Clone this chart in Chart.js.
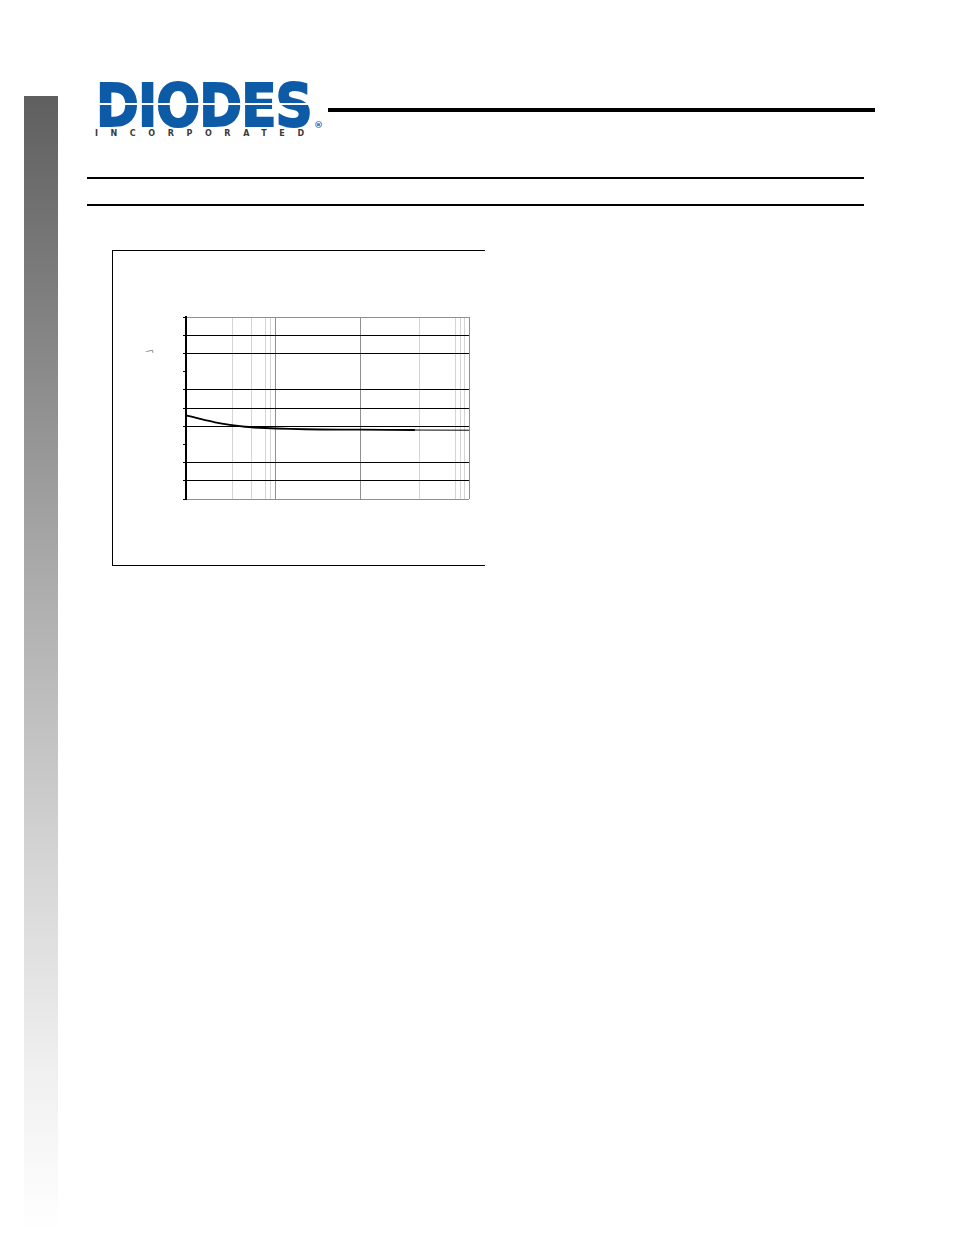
<!DOCTYPE html>
<html>
<head>
<meta charset="utf-8">
<script src="https://cdn.jsdelivr.net/npm/chart.js@4.4.1/dist/chart.umd.min.js"></script>
<style>
  html, body { margin:0; padding:0; background:#fff; }
  body { width:954px; height:1235px; position:relative; overflow:hidden; font-family:"DejaVu Sans", sans-serif; }
  .bar { position:absolute; left:24px; top:96px; width:34px; height:1139px;
         background:linear-gradient(to bottom,#5f5f5f 0%,#8c8c8c 25%,#b0b0b0 45%,#d6d6d6 68%,#efefef 85%,#ffffff 100%); }
  .logowrap { position:absolute; left:95px; top:83px; width:218px; height:45px; }
  .logo { position:absolute; left:1px; top:1px; font-family:"DejaVu Sans"; font-weight:bold; font-size:58px;
          line-height:44px; height:44px; color:#0d5ba6; transform:scaleX(0.89); transform-origin:left top; letter-spacing:-1px;
          white-space:nowrap; -webkit-text-stroke:2px #0d5ba6; }
  .stripe { position:absolute; left:0px; top:20px; width:218px; height:2px; background:#fff; }
  .inc { position:absolute; left:95px; top:130px; font-family:"DejaVu Sans"; font-weight:bold; font-size:8px; line-height:8px; height:8px;
         letter-spacing:12.6px; color:#3a3a3a; white-space:nowrap; }
  .reg { position:absolute; left:314px; top:121px; font-size:9px; line-height:9px; color:#0d5ba6; font-weight:bold; }
  .hline { position:absolute; background:#000; }
  .box { position:absolute; left:112px; top:250px; width:372px; height:314px; border-top:1px solid #000; border-left:1px solid #000; border-bottom:1px solid #000; }
  .ylab { position:absolute; left:145px; top:346px; font-size:11px; line-height:12px; color:#8a8a8a; transform:rotate(-12deg); }
  #wrap { position:absolute; left:170px; top:307px; width:310px; height:202px; }
</style>
</head>
<body>
<div class="bar"></div>
<div class="logowrap"><div class="logo">DIODES</div><div class="stripe"></div></div>
<div class="inc">INCORPORATED</div>
<div class="reg">®</div>
<div class="hline" style="left:328px;top:108px;width:547px;height:4px;"></div>
<div class="hline" style="left:87px;top:177px;width:777px;height:2px;"></div>
<div class="hline" style="left:87px;top:204px;width:777px;height:2px;"></div>
<div class="box"></div>
<div class="ylab">¬</div>
<div id="wrap"><canvas id="c" width="310" height="202"></canvas></div>
<script>
// x axis (log scale) limits and gridline values
const xMin = 0.15;
const xMax = 60;
const xGridValues = [0.4, 0.6, 0.8, 0.9, 1, 6, 21, 45, 50, 55, 60];
const xMajorValues = [1, 6, 60];
// y axis
const yMin = 0;
const yMax = 10;
const yGridShown = [1, 2, 4, 5, 6, 8, 9];
const yBorderValues = [0, 10];
// series
const seriesX = [0.15, 0.202, 0.277, 0.381, 0.523, 0.80, 1.36, 2.56, 6.0, 19.1, 60];
const seriesY = [4.60, 4.40, 4.21, 4.07, 3.97, 3.90, 3.85, 3.82, 3.81, 3.79, 3.78];

const points = seriesX.map((x, i) => ({ x: x, y: seriesY[i] }));

new Chart(document.getElementById('c'), {
  type: 'line',
  data: {
    datasets: [{
      data: points,
      borderColor: '#000',
      borderWidth: 1.8,
      pointRadius: 0,
      tension: 0.3,
      fill: false,
      segment: { borderWidth: ctx => (ctx.p0.parsed.x >= 19 ? 1 : 1.8) }
    }]
  },
  options: {
    responsive: false,
    animation: false,
    events: [],
    layout: { padding: { left: 12, top: 10, right: 11, bottom: 10 } },
    plugins: { legend: { display: false }, tooltip: { enabled: false } },
    scales: {
      x: {
        type: 'logarithmic',
        min: xMin,
        max: xMax,
        afterBuildTicks: s => { s.ticks = xGridValues.map(v => ({ value: v })); },
        afterFit: s => { s.height = 0; },
        ticks: { display: false },
        border: { display: false },
        grid: {
          drawTicks: false,
          lineWidth: 1,
          color: ctx => (ctx.tick && xMajorValues.includes(ctx.tick.value)) ? '#8f8f8f' : '#d4d4d4'
        }
      },
      y: {
        type: 'linear',
        min: yMin,
        max: yMax,
        ticks: { display: false, stepSize: 1 },
        afterFit: s => { s.width = 4; },
        border: { display: true, color: '#000', width: 2 },
        grid: {
          drawTicks: true,
          tickLength: 3,
          tickColor: '#000',
          lineWidth: 1,
          color: ctx => {
            if (!ctx.tick) return 'rgba(0,0,0,0)';
            if (yGridShown.includes(ctx.tick.value)) return '#000';
            if (yBorderValues.includes(ctx.tick.value)) return '#8f8f8f';
            return 'rgba(0,0,0,0)';
          }
        }
      }
    }
  }
});
</script>
</body>
</html>
